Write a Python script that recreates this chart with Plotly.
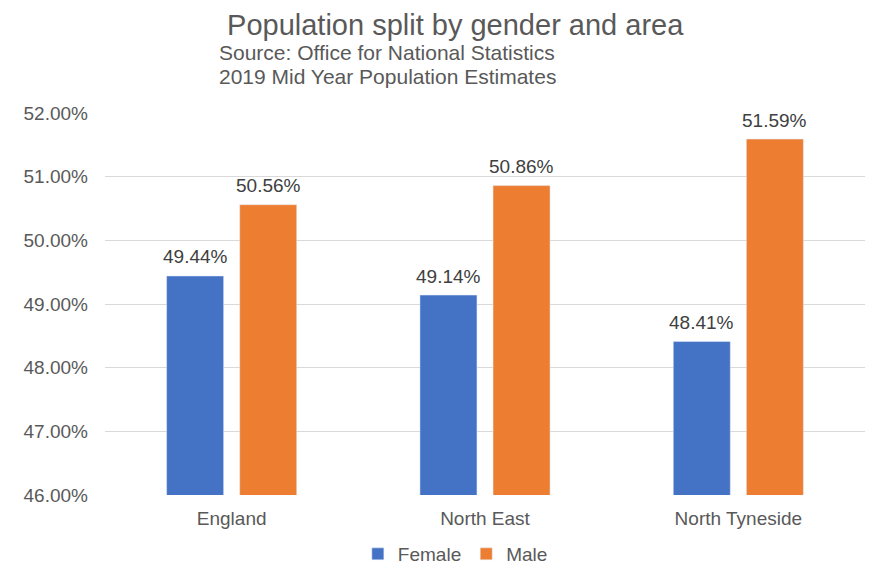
import plotly.graph_objects as go

categories = ["England", "North East", "North Tyneside"]
female = [49.44, 49.14, 48.41]
male = [50.56, 50.86, 51.59]
y_ticks = [46, 47, 48, 49, 50, 51, 52]
y_tick_labels = ["46.00%", "47.00%", "48.00%", "49.00%", "50.00%", "51.00%", "52.00%"]

FONT = "Liberation Sans, Arial, sans-serif"
fig = go.Figure()
fig.add_trace(go.Bar(name="Female", x=categories, y=female, marker_color="#4472C4"))
fig.add_trace(go.Bar(name="Male", x=categories, y=male, marker_color="#ED7D31"))

# data labels placed above each bar (offset to the grouped bar position)
labels = []
for vals, dx in ((female, -36.5), (male, 36.5)):
    for c, v in zip(categories, vals):
        labels.append(dict(
            x=c, y=v, xref="x", yref="y", xshift=dx, yshift=19,
            text=f"{v:.2f}%", showarrow=False, xanchor="center", yanchor="middle",
            font=dict(size=19, color="#404040", family=FONT)))

title_text = ("<span style='font-size:29px'>&nbsp;Population split by gender and area</span><br>"
              "<span style='font-size:21px'>Source: Office for National Statistics</span><br>"
              "<span style='font-size:21px'>2019 Mid Year Population Estimates</span>")

fig.update_layout(
    width=866, height=559,
    margin=dict(l=97, r=9, t=105, b=72, autoexpand=False),
    paper_bgcolor="white", plot_bgcolor="white",
    barmode="group", bargap=0.423, bargroupgap=0.22,
    font=dict(family=FONT, color="#595959", size=19),
    showlegend=True,
    legend=dict(orientation="h", x=0.461, xanchor="center", y=-78/382, yanchor="bottom",
                font=dict(size=19, color="#595959"), itemwidth=30, traceorder="normal"),
    xaxis=dict(tickfont=dict(size=19, color="#595959"), showline=False, ticks="",
               showgrid=False, ticklabelstandoff=10),
    yaxis=dict(range=[46, 52], tickvals=y_ticks, ticktext=y_tick_labels,
               showgrid=True, gridcolor="#D9D9D9", gridwidth=1, zeroline=False,
               tickfont=dict(size=19, color="#595959"), ticks="", ticklabelstandoff=16),
    annotations=labels + [
        dict(text=title_text, xref="paper", yref="paper", align="left",
             x=(218-105)/760, y=1, yshift=105, xanchor="left", yanchor="top", borderpad=0,
             showarrow=False, font=dict(size=19, color="#595959", family=FONT)),
    ],
)
fig.write_html("out.html")
